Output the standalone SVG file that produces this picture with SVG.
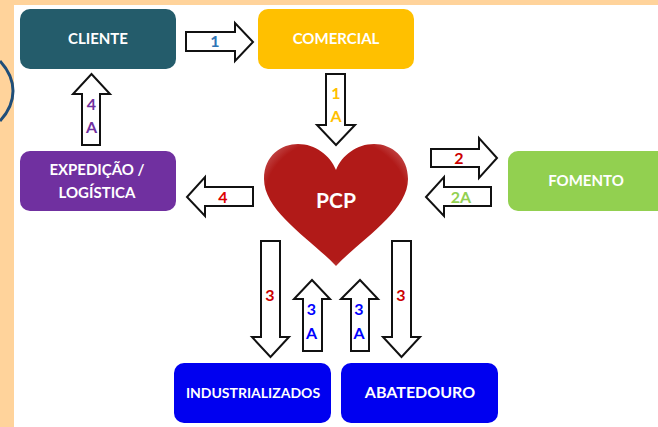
<svg xmlns="http://www.w3.org/2000/svg" width="658" height="427" viewBox="0 0 658 427">
<style>
text{font-family:"Lato","Open Sans","Liberation Sans",sans-serif;font-weight:700;text-anchor:middle}
.n{fill:#fff;font-size:15px}
.a{fill:#fff;stroke:#111;stroke-width:2}
.l{font-size:16px}
</style>
<defs>
<radialGradient id="hg" cx="0.5" cy="0.45" r="0.62">
<stop offset="0.8" stop-color="#b11a18"/><stop offset="1" stop-color="#c8595a"/>
</radialGradient>
</defs>
<rect width="658" height="427" fill="#ffd39b"/>
<rect x="14" y="5" width="644" height="422" fill="#fff"/>
<path d="M0 61Q13 75 13 91T0 121" fill="none" stroke="#1f4e79" stroke-width="3"/>
<g id="connectors">
<path class="a" d="M186 32H235V23L253 42L235 61V51H186Z"/>
<path class="a" d="M82 145V94H73L91.500 74L110 94H100V145Z"/>
<path class="a" d="M253 187H205V177L187 197L205 216V206H253Z"/>
<path class="a" d="M326 74H345V125H355L336 145L317 125H326Z"/>
<path class="a" d="M431 149H479V138L497 158L479 178V167H431Z"/>
<path class="a" d="M491 187H444V177L426 197L444 216V206H491Z"/>
<path class="a" d="M261 241H280V337H289L270.500 357L252 337H261Z"/>
<path class="a" d="M303 351V299H294L312 280L330 299H322V351Z"/>
<path class="a" d="M351 351V299H341L360 280L378 299H369V351Z"/>
<path class="a" d="M392 241H411V337H420L401.500 357L383 337H392Z"/>
<text class="l" x="215" y="47" fill="#2e75b6">1</text>
<text class="l" x="91.500" y="110" fill="#7030a0">4</text>
<text class="l" x="91.500" y="133" fill="#7030a0">A</text>
<text class="l" x="223" y="203" fill="#d00">4</text>
<text class="l" x="336" y="99" fill="#ffc000">1</text>
<text class="l" x="336" y="122" fill="#ffc000">A</text>
<text class="l" x="459" y="164" fill="#c00">2</text>
<text class="l" x="461" y="203" fill="#92d050">2A</text>
<text class="l" x="270" y="301" fill="#c00">3</text>
<text class="l" x="311.500" y="315" fill="#00f">3</text>
<text class="l" x="311.500" y="339" fill="#00f">A</text>
<text class="l" x="359" y="315" fill="#00f">3</text>
<text class="l" x="359" y="339" fill="#00f">A</text>
<text class="l" x="401" y="301" fill="#c00">3</text>
</g>
<g id="cliente"><rect x="20" y="9" width="156" height="60" rx="10" fill="#245c6b"/><text class="n" x="98" y="44">CLIENTE</text></g>
<g id="comercial"><rect x="258" y="9" width="156" height="60" rx="10" fill="#ffc000"/><text class="n" x="336" y="44">COMERCIAL</text></g>
<g id="expedicao"><rect x="20" y="151" width="156" height="60" rx="10" fill="#7030a0"/><text class="n" x="97" y="175">EXPEDIÇÃO /</text><text class="n" x="97" y="198">LOGÍSTICA</text></g>
<g id="fomento"><rect x="508" y="151" width="170" height="60" rx="10" fill="#92d050"/><text class="n" x="586" y="186">FOMENTO</text></g>
<g id="industrializados"><rect x="174" y="363" width="157" height="60" rx="10" fill="#0000f0"/><text class="n" x="253" y="398" style="font-size:14px">INDUSTRIALIZADOS</text></g>
<g id="abatedouro"><rect x="341" y="363" width="157" height="60" rx="10" fill="#0000f0"/><text class="n" x="420" y="398" style="font-size:16px">ABATEDOURO</text></g>
<g id="pcp"><path d="M336 266C312 240 264 212 264 179C264 155 282 144 298 144C315 144 330 155 336 170C342 155 357 144 374 144C392 144 408 157 408 179C408 212 360 240 336 266Z" fill="url(#hg)"/><text class="n" x="336" y="208" style="font-size:21px">PCP</text></g>
</svg>
